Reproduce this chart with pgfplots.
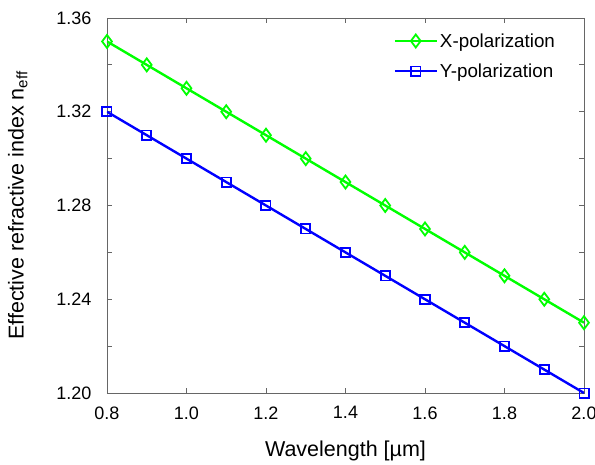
\documentclass[border=0pt]{standalone}
\usepackage{fontspec}
\setmainfont{Liberation Sans}
\usepackage{pgfplots}
\pgfplotsset{compat=1.18}

\begin{document}
\begin{tikzpicture}
\begin{axis}[
  scale only axis, width=477pt, height=375pt,
  xmin=0.8, xmax=2.0, ymin=1.20, ymax=1.36,
  xtick={0.8,1.0,...,2.0}, ytick={1.20,1.24,...,1.36},
  minor ytick={1.22,1.26,1.30,1.34},
  tick align=inside, tick pos=both,
  major tick length=5pt, minor tick length=5pt,
  axis line style={gray!80!black, line width=0.8pt},
  every tick/.style={gray!80!black, line width=0.8pt},
  xticklabel style={yshift=-10pt, /pgf/number format/.cd, fixed, fixed zerofill, precision=1},
  yticklabel style={xshift=-12pt, /pgf/number format/.cd, fixed, fixed zerofill, precision=2},
  /pgf/number format/assume math mode=true,
  tick label style={font=\fontsize{18}{21}\selectfont},
  label style={font=\fontsize{21.5}{25}\selectfont},
  xlabel={Wavelength [µm]},
  ylabel={Effective refractive index n\textsubscript{eff}},
  xlabel style={yshift=-15pt},
  ylabel style={yshift=22pt},
  legend style={draw=none, fill=none, at={(0.95,0.97)}, anchor=north east,
    font=\fontsize{18.8}{21}\selectfont, row sep=11pt},
  legend cell align=left,
  legend image code/.code={
    \draw[#1, mark repeat=2, mark phase=2] plot coordinates {(0pt,0pt) (21pt,0pt) (42pt,0pt)};},
]
\addplot[color={rgb,255:red,0;green,255;blue,0}, line width=2.4pt, mark=diamond, mark size=6.5pt,
  mark options={line width=1.8pt}] coordinates {
(0.8,1.35) (0.9,1.34) (1.0,1.33) (1.1,1.32) (1.2,1.31) (1.3,1.30) (1.4,1.29)
(1.5,1.28) (1.6,1.27) (1.7,1.26) (1.8,1.25) (1.9,1.24) (2.0,1.23)};
\addlegendentry{X-polarization}
\addplot[color={rgb,255:red,0;green,0;blue,255}, line width=2.4pt, mark=square, mark size=4.6pt,
  mark options={line width=1.8pt}] coordinates {
(0.8,1.32) (0.9,1.31) (1.0,1.30) (1.1,1.29) (1.2,1.28) (1.3,1.27) (1.4,1.26)
(1.5,1.25) (1.6,1.24) (1.7,1.23) (1.8,1.22) (1.9,1.21) (2.0,1.20)};
\addlegendentry{Y-polarization}
\end{axis}
\pgfresetboundingbox
\useasboundingbox ([shift={(-107pt,-71pt)}]current axis.south west)
  rectangle ([shift={(11pt,18pt)}]current axis.north east);
\end{tikzpicture}
\end{document}
